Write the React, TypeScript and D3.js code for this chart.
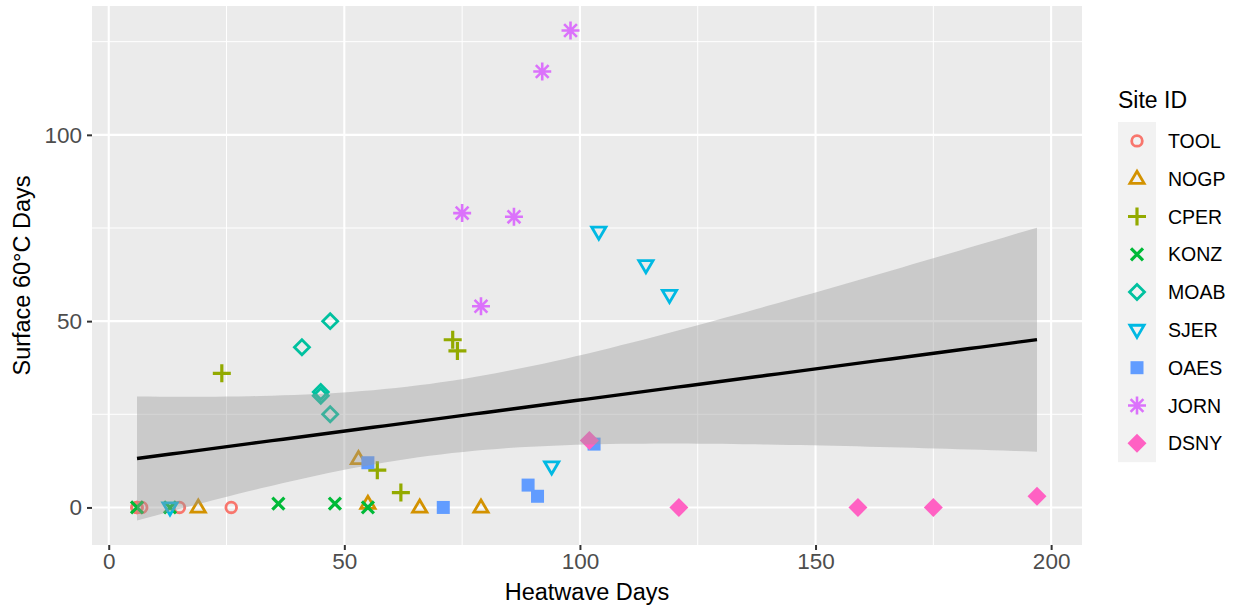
import { useEffect, useRef } from "react";
import * as d3 from "d3";

// site order, colours and shapes as in the legend
const sites = ["TOOL", "NOGP", "CPER", "KONZ", "MOAB", "SJER", "OAES", "JORN", "DSNY"];
const colors = ["#F8766D", "#D39200", "#93AA00", "#00BA38", "#00C19F", "#00B9E3", "#619CFF", "#DB72FB", "#FF61C3"];
const shapes = ["circle", "triangle", "plus", "cross", "diamond", "triangleDown", "square", "asterisk", "diamondFilled"];

// heatwave days / surface 60C days per site
const toolX = [6, 6, 7, 15, 26];
const toolY = [0, 0, 0, 0, 0];
const nogpX = [19, 53, 55, 66, 79];
const nogpY = [0, 13, 1, 0, 0];
const cperX = [24, 73, 74, 57, 62];
const cperY = [36, 45, 42, 10, 4];
const konzX = [6, 13, 36, 48, 55];
const konzY = [0, 0, 1, 1, 0];
const moabX = [41, 47, 45, 45, 47];
const moabY = [43, 50, 31, 30, 25];
const sjerX = [104, 114, 119, 94, 13];
const sjerY = [74, 65, 57, 11, 0];
const oaesX = [55, 71, 89, 91, 103];
const oaesY = [12, 0, 6, 3, 17];
const jornX = [98, 92, 75, 86, 79];
const jornY = [128, 117, 79, 78, 54];
const dsnyX = [102, 121, 159, 175, 197];
const dsnyY = [18, 0, 0, 0, 3];

const xTicks = [0, 50, 100, 150, 200];
const yTicks = [0, 50, 100];

const seriesX = [toolX, nogpX, cperX, konzX, moabX, sjerX, oaesX, jornX, dsnyX];
const seriesY = [toolY, nogpY, cperY, konzY, moabY, sjerY, oaesY, jornY, dsnyY];

function drawShape(g: any, shape: string, color: string) {
  const sw = 2.8;
  if (shape === "circle") {
    g.append("circle").attr("r", 5.3).attr("fill", "none").attr("stroke", color).attr("stroke-width", sw);
  } else if (shape === "triangle" || shape === "triangleDown") {
    const s = shape === "triangle" ? 1 : -1;
    const h = 7.5;
    const p = `M0,${-h * s} L${h * 0.95},${h * 0.62 * s} L${-h * 0.95},${h * 0.62 * s} Z`;
    g.append("path").attr("d", p).attr("fill", "none").attr("stroke", color).attr("stroke-width", sw).attr("stroke-linejoin", "miter");
  } else if (shape === "plus") {
    g.append("path").attr("d", "M-9,0 L9,0 M0,-9 L0,9").attr("stroke", color).attr("stroke-width", 3.2);
  } else if (shape === "cross") {
    g.append("path").attr("d", "M-6,-6 L6,6 M-6,6 L6,-6").attr("stroke", color).attr("stroke-width", 3.2);
  } else if (shape === "diamond") {
    g.append("path").attr("d", "M0,-7.5 L7.5,0 L0,7.5 L-7.5,0 Z").attr("fill", "none").attr("stroke", color).attr("stroke-width", sw);
  } else if (shape === "square") {
    g.append("rect").attr("x", -6.5).attr("y", -6.5).attr("width", 13).attr("height", 13).attr("fill", color);
  } else if (shape === "asterisk") {
    g.append("path").attr("d", "M-9,0 L9,0 M0,-9 L0,9 M-6.4,-6.4 L6.4,6.4 M-6.4,6.4 L6.4,-6.4").attr("stroke", color).attr("stroke-width", 2.6);
  } else if (shape === "diamondFilled") {
    g.append("path").attr("d", "M0,-9.5 L9.5,0 L0,9.5 L-9.5,0 Z").attr("fill", color);
  }
}

export default function App() {
  const ref = useRef<SVGSVGElement>(null);
  useEffect(() => {
    document.body.style.margin = "0";
    const svg = d3.select(ref.current);
    svg.selectAll("*").remove();
    const font = "'Liberation Sans', Arial, sans-serif";

    const left = 92, right = 1082, top = 6, bottom = 545;

    const allX = seriesX.flat();
    const allY = seriesY.flat();
    const n = allX.length;

    // linear fit with 95% confidence band
    const mx = d3.mean(allX)!, my = d3.mean(allY)!;
    let sxx = 0, sxy = 0;
    for (let i = 0; i < n; i++) {
      sxx += (allX[i] - mx) ** 2;
      sxy += (allX[i] - mx) * (allY[i] - my);
    }
    const slope = sxy / sxx;
    const icpt = my - slope * mx;
    let sse = 0;
    for (let i = 0; i < n; i++) sse += (allY[i] - icpt - slope * allX[i]) ** 2;
    const df = n - 2;
    const se = Math.sqrt(sse / df);
    const z = 1.959964;
    const tq = z + (z ** 3 + z) / (4 * df) + (5 * z ** 5 + 16 * z ** 3 + 3 * z) / (96 * df * df);
    const xmin = d3.min(allX)!, xmax = d3.max(allX)!;
    const fit = d3.range(0, 81).map((i) => {
      const x = xmin + ((xmax - xmin) * i) / 80;
      const yh = icpt + slope * x;
      const w = tq * se * Math.sqrt(1 / n + (x - mx) ** 2 / sxx);
      return { x, y: yh, lo: yh - w, hi: yh + w };
    });

    const yLo = Math.min(d3.min(allY)!, d3.min(fit, (d) => d.lo)!);
    const yHi = Math.max(d3.max(allY)!, d3.max(fit, (d) => d.hi)!);
    const xr = xmax - xmin, yr = yHi - yLo;

    const xScale = d3.scaleLinear().domain([xmin - 0.05 * xr, xmax + 0.05 * xr]).range([left, right]);
    const yScale = d3.scaleLinear().domain([yLo - 0.05 * yr, yHi + 0.05 * yr]).range([bottom, top]);

    svg.append("rect").attr("x", left).attr("y", top).attr("width", right - left).attr("height", bottom - top).attr("fill", "#EBEBEB");

    const grid = svg.append("g");
    const minorX = [25, 75, 125, 175];
    const minorY = [25, 75, 125];
    minorX.forEach((v) => grid.append("line").attr("x1", xScale(v)).attr("x2", xScale(v)).attr("y1", top).attr("y2", bottom).attr("stroke", "white").attr("stroke-width", 1));
    minorY.forEach((v) => grid.append("line").attr("y1", yScale(v)).attr("y2", yScale(v)).attr("x1", left).attr("x2", right).attr("stroke", "white").attr("stroke-width", 1));
    xTicks.forEach((v) => grid.append("line").attr("x1", xScale(v)).attr("x2", xScale(v)).attr("y1", top).attr("y2", bottom).attr("stroke", "white").attr("stroke-width", 2.1));
    yTicks.forEach((v) => grid.append("line").attr("y1", yScale(v)).attr("y2", yScale(v)).attr("x1", left).attr("x2", right).attr("stroke", "white").attr("stroke-width", 2.1));

    // points
    seriesX.forEach((xs, si) => {
      xs.forEach((xv, i) => {
        const g = svg.append("g").attr("transform", `translate(${xScale(xv)},${yScale(seriesY[si][i])})`);
        drawShape(g, shapes[si], colors[si]);
      });
    });

    // smooth
    const area = d3.area<any>().x((d) => xScale(d.x)).y0((d) => yScale(d.lo)).y1((d) => yScale(d.hi));
    svg.append("path").datum(fit).attr("d", area).attr("fill", "#999999").attr("opacity", 0.4);
    const line = d3.line<any>().x((d) => xScale(d.x)).y((d) => yScale(d.y));
    svg.append("path").datum(fit).attr("d", line).attr("fill", "none").attr("stroke", "black").attr("stroke-width", 3.4);

    // axes
    const xAxis = svg.append("g").attr("transform", `translate(0,${bottom})`)
      .call(d3.axisBottom(xScale).tickValues(xTicks).tickSize(5).tickPadding(3).tickFormat(d3.format("d")));
    const yAxis = svg.append("g").attr("transform", `translate(${left},0)`)
      .call(d3.axisLeft(yScale).tickValues(yTicks).tickSize(5).tickPadding(5).tickFormat(d3.format("d")));
    [xAxis, yAxis].forEach((a) => {
      a.select(".domain").remove();
      a.selectAll(".tick line").attr("stroke", "#333333").attr("stroke-width", 2);
      a.selectAll(".tick text").attr("fill", "#4D4D4D").attr("font-size", 22.5).attr("font-family", font);
    });

    svg.append("text").text("Heatwave Days").attr("x", (left + right) / 2).attr("y", 600)
      .attr("text-anchor", "middle").attr("font-size", 23.5).attr("font-family", font).attr("fill", "black");
    svg.append("text").text("Surface 60°C Days").attr("transform", `translate(30,${(top + bottom) / 2}) rotate(-90)`)
      .attr("text-anchor", "middle").attr("font-size", 23.5).attr("font-family", font).attr("fill", "black");

    // legend
    const lg = svg.append("g").attr("transform", "translate(1118,0)");
    lg.append("text").text("Site ID").attr("x", 0).attr("y", 108).attr("font-size", 23).attr("font-family", font).attr("fill", "black");
    const keyH = 37.8;
    const ky = d3.scaleBand().domain(sites).range([122, 122 + keyH * sites.length]);
    lg.append("rect").attr("x", 0).attr("y", 122).attr("width", 38).attr("height", keyH * sites.length).attr("fill", "#F2F2F2");
    sites.forEach((s, i) => {
      const cy = ky(s)! + keyH / 2;
      const g = lg.append("g").attr("transform", `translate(19,${cy})`);
      drawShape(g, shapes[i], colors[i]);
      lg.append("text").text(s).attr("x", 50).attr("y", cy + 7).attr("font-size", 19.5).attr("font-family", font).attr("fill", "black");
    });
  }, []);

  return <svg ref={ref} width={1238} height={611} style={{ display: "block" }}></svg>;
}
